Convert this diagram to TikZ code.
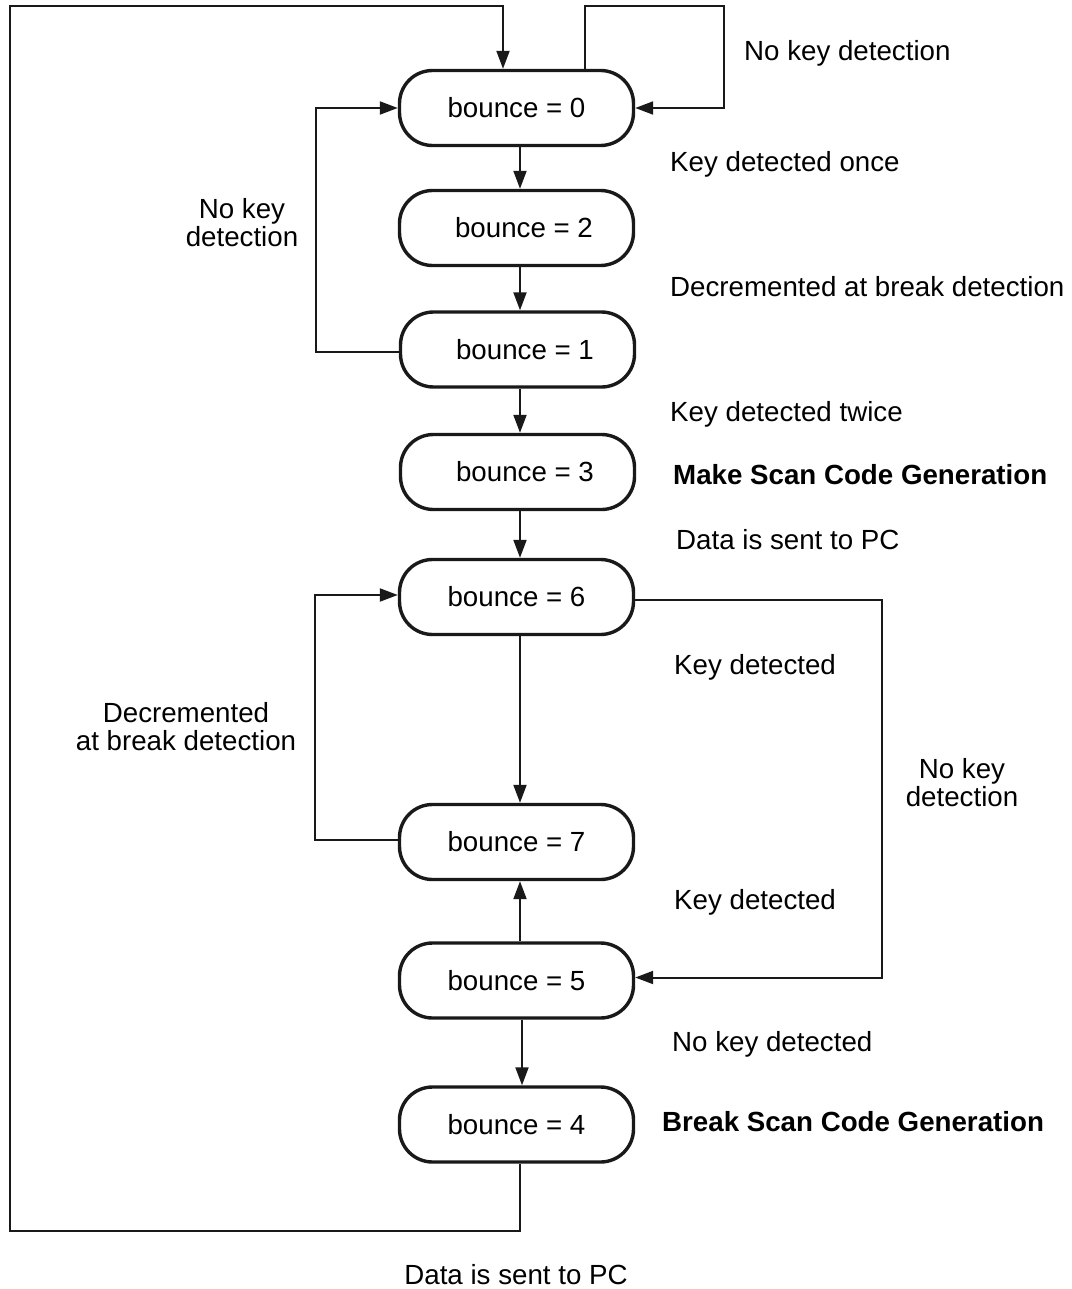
\documentclass[tikz,border=0pt]{standalone}
\usepackage{fontspec}
\setmainfont{Liberation Sans}
\usetikzlibrary{arrows.meta}
\begin{document}
\begin{tikzpicture}[x=1pt,y=-1pt,
  statebox/.style={draw=black!90,line width=3.4pt,rounded corners=33pt,minimum width=234pt,minimum height=75pt,inner sep=0pt,font=\fontsize{27.7}{28}\selectfont},
  conn/.style={draw=black!90,line width=2pt},
  arr/.style={conn,-{Triangle[length=18pt,width=13pt]}},
  lbl/.style={inner sep=0pt,anchor=west,font=\fontsize{27.7}{28}\selectfont},
  clbl/.style={inner sep=0pt,align=center,font=\fontsize{27.7}{28}\selectfont}]
\useasboundingbox (0,0) rectangle (1071,1289);

\node[statebox] (b0) at (516.5,108) {bounce = 0};
\node[statebox] (b2) at (516.5,228) {\hspace*{15pt}bounce = 2};
\node[statebox] (b1) at (517.5,349.5) {\hspace*{15pt}bounce = 1};
\node[statebox] (b3) at (517.5,472) {\hspace*{15pt}bounce = 3};
\node[statebox] (b6) at (516.5,597) {bounce = 6};
\node[statebox] (b7) at (516.5,842) {bounce = 7};
\node[statebox] (b5) at (516.5,980.5) {bounce = 5};
\node[statebox] (b4) at (516.5,1124.5) {bounce = 4};

% labels
\node[lbl] (l1) at (744,53) {No key detection};
\node[lbl] (l2) at (670,164) {Key detected once};
\node[lbl] (l3) at (670,287) {Decremented at break detection};
\node[clbl] (l4) at (242,223) {No key\\detection};
\node[lbl] (l5) at (670,414) {Key detected twice};
\node[lbl] (l6) at (673,475) {\bfseries Make Scan Code Generation};
\node[lbl] (l7) at (676,540) {Data is sent to PC};
\node[lbl] (l8) at (674,667) {Key detected};
\node[clbl] (l9) at (186,727) {Decremented\\at break detection};
\node[clbl] (l10) at (962,783) {No key\\detection};
\node[lbl] (l11) at (674,902) {Key detected};
\node[lbl] (l12) at (672,1044) {No key detected};
\node[lbl] (l13) at (662,1122) {\bfseries Break Scan Code Generation};
\node[clbl] (l14) at (516,1275) {Data is sent to PC};

% corner coordinates
\coordinate (c1) at (10,1231);
\coordinate (c2) at (10,6);
\coordinate (c3) at (724,6);
\coordinate (c4) at (316,108);
\coordinate (c5) at (315,595);
\coordinate (c6) at (882,800);

% straight arrows
\draw[arr] ([xshift=3.5pt]b0.south) -- ([xshift=3.5pt]b2.north);
\draw[arr] ([xshift=3.5pt]b2.south) -- ([xshift=2.5pt]b1.north);
\draw[arr] ([xshift=2.5pt]b1.south) -- ([xshift=2.5pt]b3.north);
\draw[arr] ([xshift=2.5pt]b3.south) -- ([xshift=3.5pt]b6.north);
\draw[arr] ([xshift=3.5pt]b6.south) -- ([xshift=3.5pt]b7.north);
\draw[arr] ([xshift=3.5pt]b5.north) -- ([xshift=3.5pt]b7.south);
\draw[arr] ([xshift=5.5pt]b5.south) -- ([xshift=5.5pt]b4.north);

% loops
\draw[arr] ([xshift=3.5pt]b4.south) |- (c1) -- (c2) -| ([xshift=-13.5pt]b0.north);
\draw[arr] ([xshift=68.5pt]b0.north) |- (c3) |- (b0.east);
\draw[arr] ([yshift=-2pt]b1.west) -| (c4) -- (b0.west);
\draw[arr] ([yshift=2pt]b7.west) -| (c5) -- ([yshift=2pt]b6.west);
\draw[arr] ([yshift=-3pt]b6.east) -| (c6) |- ([yshift=3pt]b5.east);
\end{tikzpicture}
\end{document}
